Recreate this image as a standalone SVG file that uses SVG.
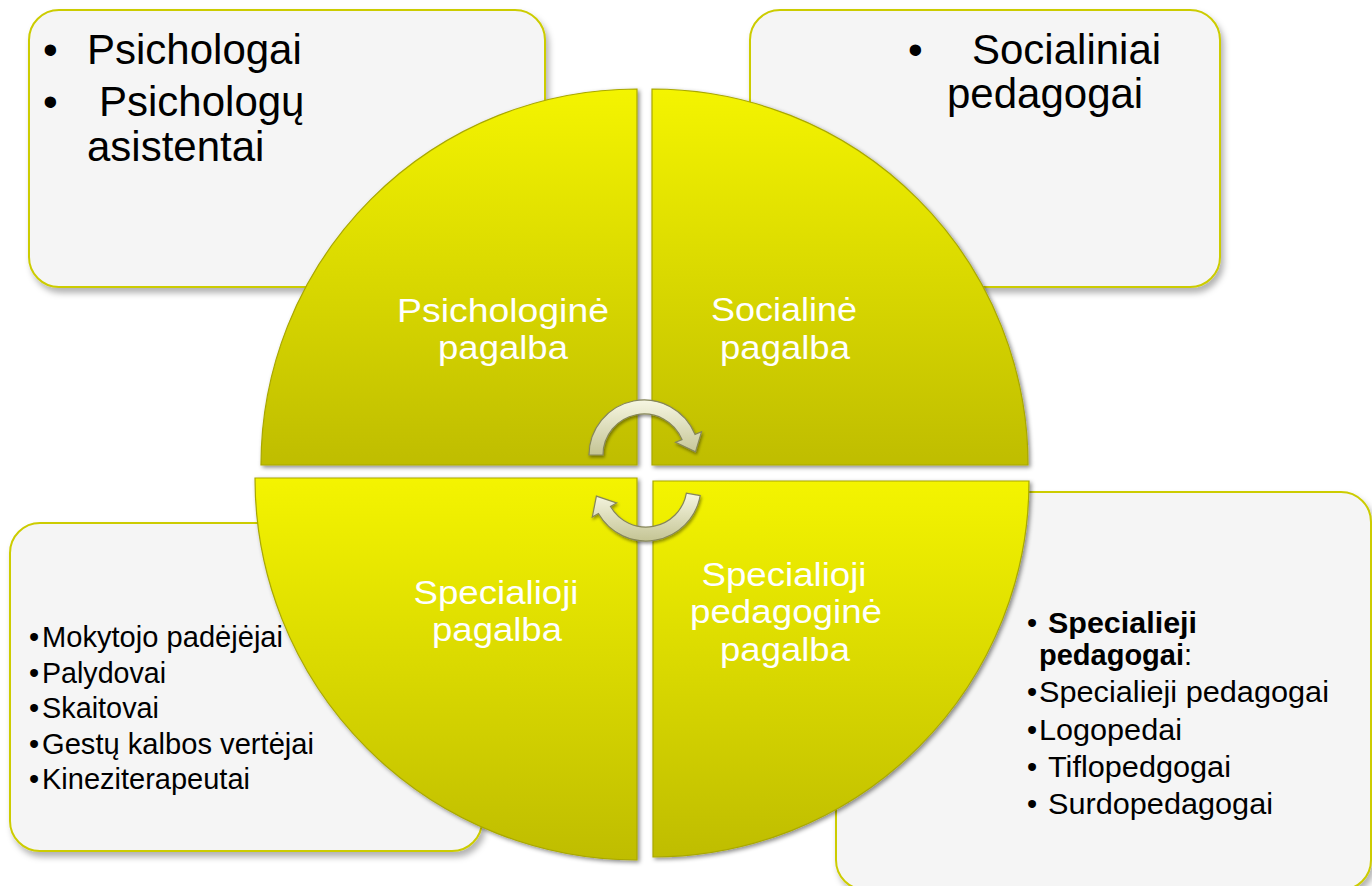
<svg xmlns="http://www.w3.org/2000/svg" width="1372" height="886" viewBox="0 0 1372 886">
  <defs>
    <linearGradient id="gq" x1="0" y1="0" x2="0" y2="1">
      <stop offset="0" stop-color="#f4f400"/>
      <stop offset="1" stop-color="#bfbd00"/>
    </linearGradient>
    <linearGradient id="ga" x1="0" y1="0" x2="0" y2="1">
      <stop offset="0" stop-color="#f6f6e2"/>
      <stop offset="1" stop-color="#c4c494"/>
    </linearGradient>
    <filter id="boxShadow" x="-10%" y="-10%" width="120%" height="125%">
      <feDropShadow dx="3" dy="5" stdDeviation="3" flood-color="#000" flood-opacity="0.3"/>
    </filter>
    <filter id="quadShadow" x="-10%" y="-10%" width="120%" height="120%">
      <feDropShadow dx="2" dy="2" stdDeviation="2" flood-color="#000" flood-opacity="0.45"/>
    </filter>
    <filter id="arrowShadow" x="-20%" y="-20%" width="140%" height="150%">
      <feDropShadow dx="1" dy="2" stdDeviation="1.5" flood-color="#000" flood-opacity="0.4"/>
    </filter>
  </defs>
  <style>
    .box { fill: #f5f5f5; stroke: #cccc00; stroke-width: 2; filter: url(#boxShadow); }
    .quad { fill: url(#gq); stroke: #a9a800; stroke-width: 1.2; filter: url(#quadShadow); }
    .arrow { fill: url(#ga); stroke: #86865a; stroke-width: 1.2; filter: url(#arrowShadow); }
    .t { font-family: "Liberation Sans", Arial, sans-serif; fill: #000; }
    .big { font-size: 42px; }
    .small { font-size: 29px; }
    .lbl { font-family: "Liberation Sans", Arial, sans-serif; font-size: 34px; fill: #fff; text-anchor: middle; }
    .b { font-weight: bold; }
  </style>

  <rect width="1372" height="886" fill="#ffffff"/>

  <!-- corner boxes -->
  <g id="box-psichologai">
    <rect class="box" x="29" y="10" width="516" height="277" rx="30"/>
    <text class="t big" x="43" y="64">•</text>
    <text class="t big" x="87" y="64">Psichologai</text>
    <text class="t big" x="43" y="116">•</text>
    <text class="t big" x="99" y="116">Psichologų</text>
    <text class="t big" x="87" y="161">asistentai</text>
  </g>

  <g id="box-socialiniai">
    <rect class="box" x="750" y="10" width="470" height="277" rx="30"/>
    <text class="t big" x="908" y="64">•</text>
    <text class="t big" x="972" y="64">Socialiniai</text>
    <text class="t big" x="947" y="108">pedagogai</text>
  </g>

  <g id="box-specialioji">
    <rect class="box" x="10" y="523" width="472" height="328" rx="30"/>
    <text class="t small" x="29" y="647">•</text>
    <text class="t small" x="42" y="647" textLength="241" lengthAdjust="spacingAndGlyphs">Mokytojo padėjėjai</text>
    <text class="t small" x="29" y="683">•</text>
    <text class="t small" x="42" y="683" textLength="124" lengthAdjust="spacingAndGlyphs">Palydovai</text>
    <text class="t small" x="29" y="718">•</text>
    <text class="t small" x="42" y="718" textLength="117" lengthAdjust="spacingAndGlyphs">Skaitovai</text>
    <text class="t small" x="29" y="754">•</text>
    <text class="t small" x="42" y="754" textLength="272" lengthAdjust="spacingAndGlyphs">Gestų kalbos vertėjai</text>
    <text class="t small" x="29" y="789">•</text>
    <text class="t small" x="42" y="789" textLength="208" lengthAdjust="spacingAndGlyphs">Kineziterapeutai</text>
  </g>

  <g id="box-specialieji">
    <rect class="box" x="836" y="492" width="535" height="398" rx="30"/>
    <text class="t small" x="1027" y="633">•</text>
    <text class="t small b" x="1048" y="633" textLength="149" lengthAdjust="spacingAndGlyphs">Specialieji</text>
    <text class="t small" x="1039" y="665"><tspan class="b">pedagogai</tspan>:</text>
    <text class="t small" x="1027" y="702">•</text>
    <text class="t small" x="1039" y="702" textLength="290" lengthAdjust="spacingAndGlyphs">Specialieji pedagogai</text>
    <text class="t small" x="1027" y="740">•</text>
    <text class="t small" x="1039" y="740" textLength="143" lengthAdjust="spacingAndGlyphs">Logopedai</text>
    <text class="t small" x="1027" y="777">•</text>
    <text class="t small" x="1048" y="777" textLength="183" lengthAdjust="spacingAndGlyphs">Tiflopedgogai</text>
    <text class="t small" x="1027" y="814">•</text>
    <text class="t small" x="1048" y="814" textLength="225" lengthAdjust="spacingAndGlyphs">Surdopedagogai</text>
  </g>

  <!-- quadrants -->
  <g id="q-psichologine">
    <path class="quad" d="M637,465 L261,465 A376,376 0 0,1 637,89 Z"/>
    <text class="lbl" x="503" y="322" textLength="212" lengthAdjust="spacingAndGlyphs">Psichologinė</text>
    <text class="lbl" x="503" y="359" textLength="130" lengthAdjust="spacingAndGlyphs">pagalba</text>
  </g>
  <g id="q-sociline">
    <path class="quad" d="M652,465 L652,89 A376,376 0 0,1 1028,465 Z"/>
    <text class="lbl" x="784" y="321" textLength="146" lengthAdjust="spacingAndGlyphs">Socialinė</text>
    <text class="lbl" x="785" y="359" textLength="130" lengthAdjust="spacingAndGlyphs">pagalba</text>
  </g>
  <g id="q-specialioji">
    <path class="quad" d="M637,478 L255,478 A382,382 0 0,0 637,860 Z"/>
    <text class="lbl" x="496" y="604" textLength="165" lengthAdjust="spacingAndGlyphs">Specialioji</text>
    <text class="lbl" x="497" y="641" textLength="130" lengthAdjust="spacingAndGlyphs">pagalba</text>
  </g>
  <g id="q-specialioji-pedagogine">
    <path class="quad" d="M653,481 L1029,481 A376,376 0 0,1 653,857 Z"/>
    <text class="lbl" x="784" y="586" textLength="165" lengthAdjust="spacingAndGlyphs">Specialioji</text>
    <text class="lbl" x="786" y="623" textLength="192" lengthAdjust="spacingAndGlyphs">pedagoginė</text>
    <text class="lbl" x="785" y="661" textLength="130" lengthAdjust="spacingAndGlyphs">pagalba</text>
  </g>

  <!-- connectors: circular arrows -->
  <g id="connectors">
    <path class="arrow" d="M589,455 A55,55 0 0,1 695,434.4 L701.5,431.8 L695.5,451.8 L675.5,442.3 L682,439.6 A41,41 0 0,0 603,455 Z"/>
    <path class="arrow" d="M700.2,495.6 A55,55 0 0,1 598.4,513.5 L592.3,517 L596.4,496.1 L616.6,503 L610.5,506.5 A41,41 0 0,0 686.4,493.1 Z"/>
  </g>
</svg>
